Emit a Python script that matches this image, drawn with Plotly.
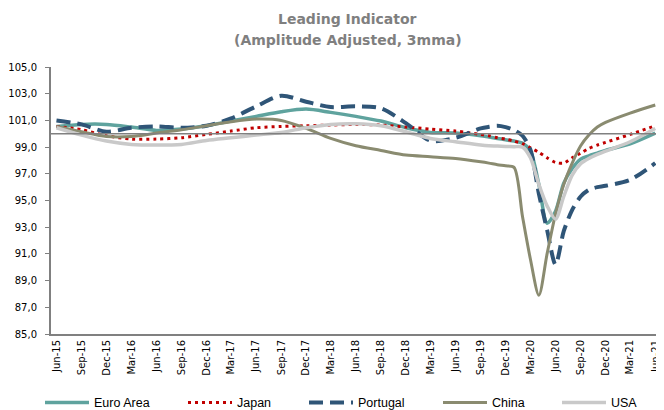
import plotly.graph_objects as go

# months shown (quarterly, then monthly around the 2020 shock)
dates = [
    "2015-06", "2015-09", "2015-12", "2016-03", "2016-06", "2016-09",
    "2016-12", "2017-03", "2017-06", "2017-09", "2017-12", "2018-03",
    "2018-06", "2018-09", "2018-12", "2019-03", "2019-06", "2019-09",
    "2019-10", "2019-11", "2019-12", "2020-01", "2020-02", "2020-03",
    "2020-04", "2020-05", "2020-06", "2020-07", "2020-08", "2020-09",
    "2020-10", "2020-11", "2020-12", "2021-03", "2021-06",
]

euro_area = [
    100.55, 100.7, 100.7, 100.5, 100.25, 100.35, 100.6, 100.95, 101.3,
    101.65, 101.85, 101.6, 101.3, 100.95, 100.45, 100.1, 100.05, 99.85,
    99.75, 99.65, 99.55, 99.45, 99.3, 98.7, 96.2, 93.3, 94.2, 96.3,
    97.4, 98.1, 98.35, 98.55, 98.75, 99.25, 100.05,
]
japan = [
    100.55, 100.3, 99.85, 99.6, 99.6, 99.7, 99.95, 100.2, 100.45,
    100.55, 100.6, 100.65, 100.7, 100.65, 100.5, 100.35, 100.2, 99.95,
    99.85, 99.7, 99.6, 99.45, 99.25, 98.95, 98.6, 98.2, 97.85, 97.8,
    98.2, 98.55, 98.9, 99.15, 99.35, 99.95, 100.6,
]
portugal = [
    101.0, 100.7, 100.15, 100.45, 100.55, 100.45, 100.6, 101.15, 102.05,
    102.85, 102.4, 102.0, 102.05, 101.9, 100.8, 99.48, 99.7, 100.4,
    100.52, 100.6, 100.5, 100.28, 99.85, 98.8, 95.5, 92.8, 90.2, 92.7,
    94.3, 95.3, 95.8, 96.0, 96.1, 96.55, 97.8,
]
china = [
    100.55, 100.15, 99.8, 99.8, 100.05, 100.3, 100.6, 100.9, 101.1,
    101.0, 100.4, 99.65, 99.1, 98.75, 98.4, 98.28, 98.15, 97.9,
    97.8, 97.68, 97.6, 97.48, 93.8, 90.6, 87.9, 91.0, 94.0, 96.2,
    97.8, 99.1, 99.9, 100.5, 100.85, 101.55, 102.15,
]
usa = [
    100.45, 99.9, 99.45, 99.2, 99.15, 99.2, 99.5, 99.7, 99.9,
    100.1, 100.45, 100.7, 100.75, 100.6, 100.15, 99.65, 99.4, 99.15,
    99.1, 99.08, 99.05, 99.03, 99.0, 98.2, 96.2, 94.6, 93.6, 95.3,
    96.9, 97.75, 98.15, 98.45, 98.7, 99.4, 100.4,
]

series = [
    ("Euro Area", euro_area, dict(color="#5FA39E", width=3.5, dash="solid")),
    ("Japan", japan, dict(color="#C00000", width=3, dash="3px,4px")),
    ("Portugal", portugal, dict(color="#2F5577", width=4, dash="14px,7px")),
    ("China", china, dict(color="#8A8B70", width=3, dash="solid")),
    ("USA", usa, dict(color="#C9C9C9", width=3.5, dash="solid")),
]

# page body has an 8px margin, so the figure is drawn 8px smaller
PAGE_PAD = 8
PLOT_L, PLOT_W = 51, 613  # plot area in page pixels
# one legend box per series so the bottom row keeps the original spacing
legend_px = [40, 183, 304, 438, 557]

fig = go.Figure()
legends = {}
for i, (name, values, line) in enumerate(series):
    key = "legend" if i == 0 else f"legend{i + 1}"
    fig.add_trace(go.Scatter(
        x=dates, y=values, name=name, mode="lines", legend=key,
        line=dict(shape="spline", smoothing=0.8, **line),
    ))
    legends[key] = dict(
        orientation="h", x=(legend_px[i] - PLOT_L) / PLOT_W, xanchor="left",
        y=-0.258, yanchor="middle", itemwidth=44, bgcolor="rgba(0,0,0,0)",
        font=dict(family="Liberation Sans", size=12.5, color="#000000"),
    )

fig.add_hline(y=100, line=dict(color="#808080", width=1.5))

title_font = dict(family="DejaVu Sans", size=14, color="#7F7F7F", weight="bold")
fig.add_annotation(text="Leading Indicator", xref="paper", yref="paper",
                   x=(347 - PLOT_L) / PLOT_W, y=(334 - 19) / 267,
                   yanchor="middle", showarrow=False, font=title_font)
fig.add_annotation(text="(Amplitude Adjusted, 3mma)", xref="paper", yref="paper",
                   x=(348 - PLOT_L) / PLOT_W, y=(334 - 40) / 267,
                   yanchor="middle", showarrow=False, font=title_font)

fig.update_layout(
    width=664 - PAGE_PAD, height=410 - PAGE_PAD,
    margin=dict(l=PLOT_L - PAGE_PAD, r=0, t=67 - PAGE_PAD, b=76, autoexpand=False),
    paper_bgcolor="white", plot_bgcolor="white",
    separators=",.",
    font=dict(family="DejaVu Sans", size=10, color="#000000"),
    showlegend=True,
    **legends,
)

fig.update_xaxes(
    type="date", range=["2015-05-12", "2021-07-03"],
    tick0="2015-06-01", dtick="M3", tickformat="%b-%y", tickangle=-90,
    ticklabeloverflow="allow", automargin=False,
    showgrid=False, showline=True, linecolor="#808080", linewidth=2,
    ticks="", zeroline=False,
)
fig.update_yaxes(
    range=[85, 105], tick0=85, dtick=2, tickformat=".1f", automargin=False,
    showgrid=False, showline=True, linecolor="#808080", linewidth=2,
    ticks="outside", ticklen=4, tickcolor="#808080", ticklabelstandoff=6,
    zeroline=False,
)

fig.write_html("out.html")
